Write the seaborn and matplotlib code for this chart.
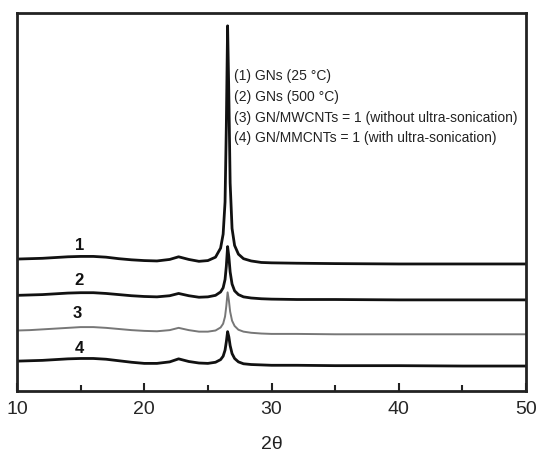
import matplotlib
matplotlib.use("Agg")
import matplotlib.pyplot as plt
from matplotlib.ticker import MultipleLocator
import seaborn as sns
import pandas as pd

# 2-theta sampling positions (degrees)
two_theta = [10, 11, 12, 13, 14, 15, 16, 17, 18, 19, 20, 21, 22, 22.7, 23.5,
             24.3, 25.0, 25.6, 26.0, 26.2, 26.35, 26.45, 26.55, 26.65, 26.75,
             26.9, 27.1, 27.4, 27.8, 28.4, 29.2, 30, 32, 35, 40, 45, 50]

# stacked XRD intensities (arbitrary units, vertically offset)
gns_25 = [34.9, 35.0, 35.1, 35.3, 35.5, 35.6, 35.6, 35.4, 35.0, 34.7, 34.5, 34.4,
          34.8, 35.5, 34.8, 34.3, 34.5, 35.4, 37.8, 41.5, 50.0, 70.0, 96.6, 78.0,
          55.0, 43.0, 38.5, 36.2, 35.0, 34.4, 34.0, 33.9, 33.8, 33.7, 33.6, 33.6, 33.6]
gns_500 = [25.3, 25.4, 25.5, 25.7, 25.9, 26.0, 26.0, 25.8, 25.5, 25.2, 25.0, 24.9,
           25.2, 25.8, 25.2, 24.8, 24.9, 25.3, 26.2, 27.3, 29.5, 33.0, 38.2, 35.5,
           31.5, 28.3, 26.5, 25.5, 24.9, 24.6, 24.4, 24.3, 24.2, 24.2, 24.1, 24.1, 24.1]
gn_mwcnt_no_us = [16.0, 16.1, 16.3, 16.5, 16.7, 16.9, 16.9, 16.7, 16.4, 16.1, 15.9, 15.8,
                  16.1, 16.7, 16.1, 15.7, 15.7, 16.0, 16.8, 17.8, 19.7, 22.5, 26.1, 24.0,
                  21.0, 18.6, 17.2, 16.2, 15.7, 15.4, 15.2, 15.1, 15.1, 15.0, 15.0, 15.0, 15.0]
gn_mwcnt_us = [7.9, 8.0, 8.1, 8.3, 8.5, 8.6, 8.6, 8.4, 8.0, 7.6, 7.3, 7.3,
               7.7, 8.5, 7.8, 7.4, 7.3, 7.6, 8.3, 9.2, 10.8, 13.0, 15.7, 14.3,
               12.0, 9.9, 8.6, 7.7, 7.2, 7.0, 6.9, 6.8, 6.8, 6.7, 6.7, 6.6, 6.6]

curve_numbers = ["1", "2", "3", "4"]
legend_lines = ["(1) GNs (25 °C)",
                "(2) GNs (500 °C)",
                "(3) GN/MWCNTs = 1 (without ultra-sonication)",
                "(4) GN/MMCNTs = 1 (with ultra-sonication)"]
x_ticks = [10, 20, 30, 40, 50]

sns.set_theme(style="white")
plt.rcParams["font.family"] = ["Liberation Sans", "DejaVu Sans"]

fig = plt.figure(figsize=(5.41, 4.54), dpi=100)
ax = fig.add_axes([0.0314, 0.1388, 0.9409, 0.8326])

series = [gns_25, gns_500, gn_mwcnt_no_us, gn_mwcnt_us]
colors = ["#111111", "#111111", "#777777", "#111111"]
widths = [2.0, 2.0, 1.4, 2.0]

for values, c, lw in zip(series, colors, widths):
    df = pd.DataFrame({"two_theta": two_theta, "intensity": values})
    sns.lineplot(data=df, x="two_theta", y="intensity", ax=ax,
                 color=c, linewidth=lw, legend=False)

# curve numbers above the left part of each trace
label_pos = [(14.9, 38.6), (14.9, 29.2), (14.75, 20.5), (14.9, 11.3)]
for num, (lx, ly) in zip(curve_numbers, label_pos):
    ax.text(lx, ly, num, ha="center", va="center", fontsize=12,
            fontweight="bold", color="#111111")

# sample descriptions next to the main peak
legend_y = [83.2, 77.7, 72.1, 66.8]
for line, ly in zip(legend_lines, legend_y):
    ax.text(27.05, ly, line, ha="left", va="center", fontsize=10,
            color="#222222")

ax.set_xlim(10, 50)
ax.set_ylim(0, 100)
ax.set_xticks(x_ticks)
ax.set_xticklabels([str(t) for t in x_ticks])
ax.xaxis.set_minor_locator(MultipleLocator(5))
ax.set_yticks([])
ax.tick_params(axis="x", which="major", direction="in", length=6, width=1.5,
               color="#222222", labelsize=14, pad=7, bottom=True, top=False)
ax.tick_params(axis="x", which="minor", direction="in", length=4, width=1.5,
               color="#222222", bottom=True, top=False)
ax.set_xlabel("2θ", fontsize=14, labelpad=13, color="#222222")
ax.set_ylabel("")
for sp in ax.spines.values():
    sp.set_visible(True)
    sp.set_linewidth(2.0)
    sp.set_color("#222222")

fig.savefig("out.png", dpi=100)
